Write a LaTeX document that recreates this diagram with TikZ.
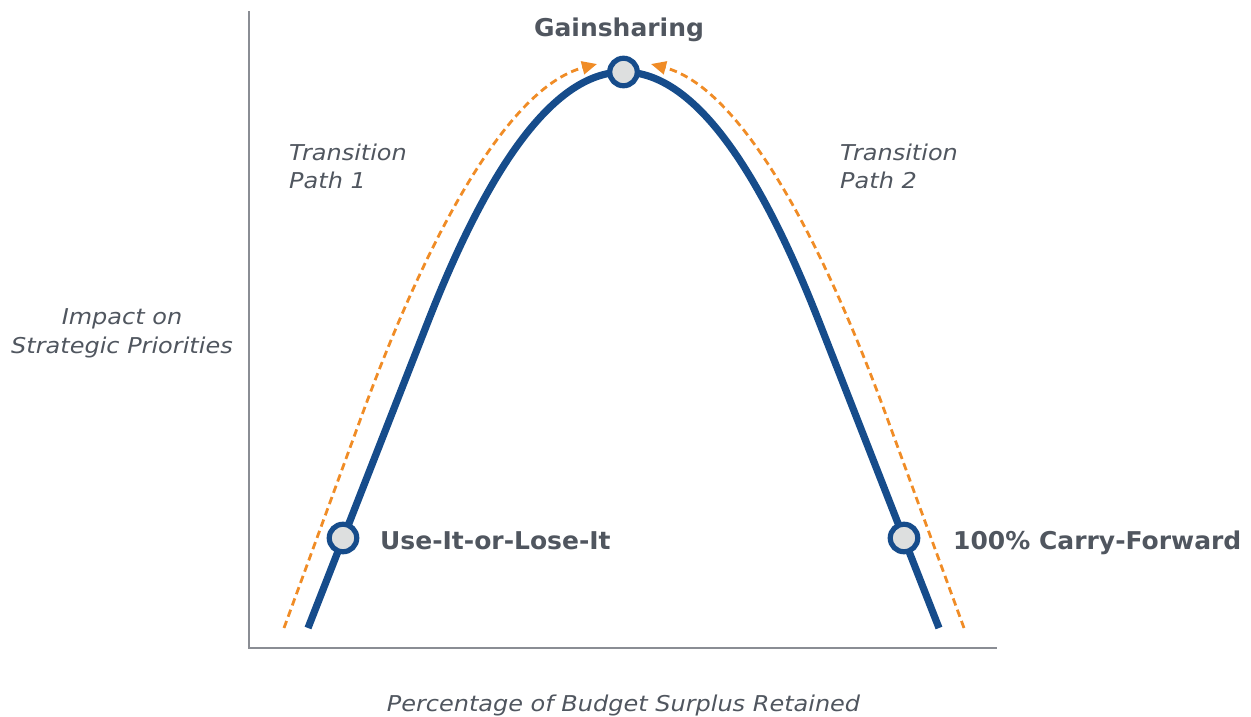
\documentclass[tikz,border=0pt]{standalone}
\usepackage{fontspec}
\setmainfont{DejaVu Sans}
\newfontfamily\widesans[FakeStretch=1.1]{DejaVu Sans}
\newfontfamily\boldsans[FakeStretch=1.02]{DejaVu Sans}
\usetikzlibrary{arrows.meta}

\definecolor{curveblue}{RGB}{22,76,139}
\definecolor{pathorange}{RGB}{240,140,38}
\definecolor{axisgray}{RGB}{138,141,148}
\definecolor{textgray}{RGB}{80,86,95}
\definecolor{dotfill}{RGB}{221,223,223}

\tikzset{
  axisline/.style={draw=axisgray, line width=2.5pt},
  curveline/.style={draw=curveblue, line width=7.2pt},
  transpath/.style={draw=pathorange, line width=2.8pt, dash pattern=on 7.5pt off 4.5pt,
    -{Triangle[length=15pt,width=13pt]}},
  stagedot/.style={circle, draw=curveblue, fill=dotfill, line width=5.2pt,
    minimum size=27.5pt, inner sep=0pt},
  stagelabel/.style={font=\boldsans\fontsize{24.5}{29}\selectfont\bfseries, text=textgray,
    inner sep=0pt},
  notelabel/.style={font=\widesans\fontsize{21.8}{28.5}\selectfont\itshape, text=textgray,
    inner sep=0pt},
}

\begin{document}
\begin{tikzpicture}[x=1pt, y=-1pt]
  \useasboundingbox (0,0) rectangle (1251,716);

  % axes
  \coordinate (ytop) at (249,11);
  \coordinate (origin) at (249,648);
  \coordinate (xend) at (997,648);
  \draw[axisline] (ytop) -- (origin) -- (xend);

  % bell-shaped curve: straight flanks joined by a parabolic crest
  \coordinate (bl) at (308,628);
  \coordinate (br) at (939,628);
  \draw[curveline] (bl) -- (427.2,323.6)
    .. controls (558.1,-11.9) and (688.9,-11.9) .. (819.8,323.6) -- (br);

  % transition paths
  \coordinate (p1start) at (284,628);
  \coordinate (p1end) at (597,64);
  \coordinate (p2start) at (964,628);
  \coordinate (p2end) at (651,64);
  \draw[transpath] (p1start) -- (361.4,416.6)
    .. controls (439.6,203.0) and (517.8,84.8) .. (p1end);
  \draw[transpath] (p2start) -- (886.6,416.6)
    .. controls (808.4,203.0) and (730.2,84.8) .. (p2end);

  % stages on the curve
  \node[stagedot] (gain) at (623.5,72) {};
  \node[stagedot] (useit) at (343,538) {};
  \node[stagedot] (carry) at (904,538) {};

  \node[stagelabel, anchor=base] (gainlbl) at (619,36) {Gainsharing};
  \node[stagelabel, anchor=base west] (useitlbl) at (380,549.5) {Use-It-or-Lose-It};
  \node[stagelabel, anchor=base west] (carrylbl) at (953,549.5) {100\% Carry-Forward};

  % path annotations (base anchor sits on the last line)
  \node[notelabel, anchor=base west, align=left] (path1) at (289,188.5) {Transition\\Path 1};
  \node[notelabel, anchor=base west, align=left] (path2) at (840,188.5) {Transition\\Path 2};

  % axis titles
  \node[notelabel, anchor=base, align=center] (ytitle) at (122,353.3) {Impact on\\Strategic Priorities};
  \node[notelabel, anchor=base] (xtitle) at (623.5,711) {Percentage of Budget Surplus Retained};
\end{tikzpicture}
\end{document}
